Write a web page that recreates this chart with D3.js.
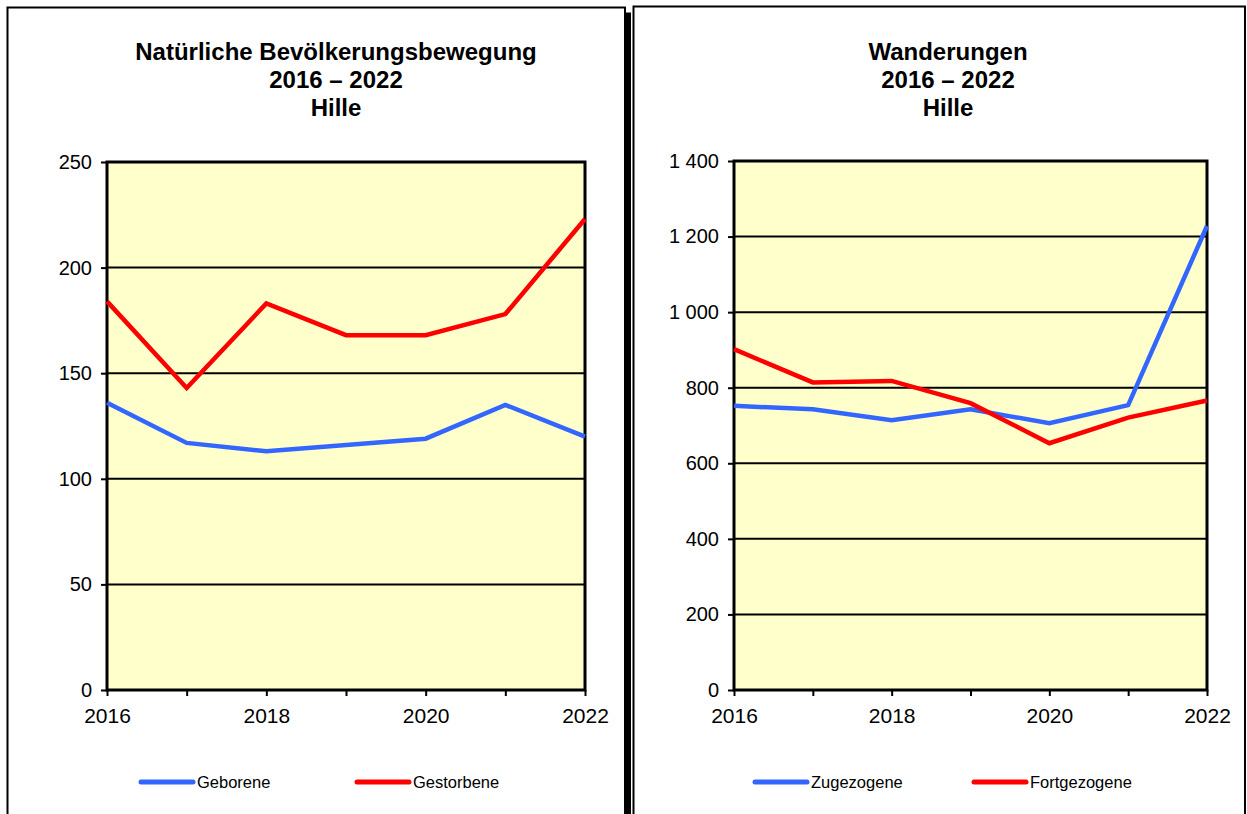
<!DOCTYPE html>
<html><head><meta charset="utf-8">
<script src="https://cdn.jsdelivr.net/npm/d3@7"></script>
<style>
html,body{margin:0;padding:0;background:#fff;}
svg{display:block;font-family:"Liberation Sans",Arial,sans-serif;}
</style></head>
<body>
<svg id="c" width="1247" height="814"></svg>
<script>
const years = [2016, 2017, 2018, 2019, 2020, 2021, 2022];
const yearLabels = [2016, 2018, 2020, 2022];

const geborene = [136, 117, 113, 116, 119, 135, 120];
const gestorbene = [184, 143, 183, 168, 168, 178, 223];
const leftTicks = [0, 50, 100, 150, 200, 250];

const zugezogene = [752, 743, 714, 743, 706, 754, 1228];
const fortgezogene = [902, 814, 818, 759, 653, 721, 766];
const rightTicks = [0, 200, 400, 600, 800, 1000, 1200, 1400];

const leftTitle = ["Natürliche Bevölkerungsbewegung", "2016 – 2022", "Hille"];
const rightTitle = ["Wanderungen", "2016 – 2022", "Hille"];

const blue = "#3366ff", red = "#ff0000";
const svg = d3.select("#c");

function panel(opt){
  const g = svg.append("g");
  if (opt.shadow) {
    g.append("rect").attr("x", opt.x1 + 1).attr("y", opt.y0 + 5).attr("width", 5).attr("height", 900).attr("fill", "#000");
  }
  g.append("rect").attr("x", opt.x0).attr("y", opt.y0).attr("width", opt.x1 - opt.x0).attr("height", 900)
    .attr("fill", "#fff").attr("stroke", "#000").attr("stroke-width", opt.bw);

  const t = g.append("text").attr("text-anchor", "middle").attr("font-weight", "bold").attr("font-size", 24).attr("fill", "#000");
  opt.title.forEach((s, i) => t.append("tspan").attr("x", opt.tx).attr("y", 60 + i * 28).text(s));

  const x = d3.scaleLinear().domain([2016, 2022]).range([opt.px0, opt.px1]);
  const y = d3.scaleLinear().domain([0, opt.ymax]).range([opt.py1, opt.py0]);

  g.append("rect").attr("x", opt.px0).attr("y", opt.py0).attr("width", opt.px1 - opt.px0).attr("height", opt.py1 - opt.py0)
    .attr("fill", "#ffffcc");

  g.append("g").selectAll("line").data(opt.ticks.slice(1, -1)).join("line")
    .attr("x1", opt.px0).attr("x2", opt.px1).attr("y1", d => y(d)).attr("y2", d => y(d))
    .attr("stroke", "#000").attr("stroke-width", 2);

  const ya = g.append("g").attr("transform", `translate(${opt.px0},0)`)
    .call(d3.axisLeft(y).tickValues(opt.ticks).tickSize(6).tickPadding(9).tickFormat(opt.fmt));
  ya.select(".domain").remove();
  ya.selectAll("line").attr("stroke", "#000").attr("stroke-width", 2);
  ya.selectAll("text").attr("font-size", 20).attr("fill", "#000").attr("font-family", "Liberation Sans, Arial, sans-serif");

  const xa = g.append("g").attr("transform", `translate(0,${opt.py1})`)
    .call(d3.axisBottom(x).tickValues(years).tickSize(6).tickPadding(12).tickFormat(d => yearLabels.includes(d) ? String(d) : ""));
  xa.select(".domain").remove();
  xa.selectAll("line").attr("stroke", "#000").attr("stroke-width", 2);
  xa.selectAll("text").attr("font-size", 21).attr("fill", "#000").attr("font-family", "Liberation Sans, Arial, sans-serif");

  g.append("rect").attr("x", opt.px0).attr("y", opt.py0).attr("width", opt.px1 - opt.px0).attr("height", opt.py1 - opt.py0)
    .attr("fill", "none").attr("stroke", "#000").attr("stroke-width", 3);

  const line = d3.line().x((d, i) => x(years[i])).y(d => y(d));
  opt.series.forEach(s => {
    g.append("path").datum(s.values).attr("d", line).attr("fill", "none")
      .attr("stroke", s.color).attr("stroke-width", 4.5).attr("stroke-linejoin", "miter");
  });

  opt.series.forEach((s, i) => {
    const lx = opt.legX[i];
    g.append("line").attr("x1", lx).attr("x2", lx + 52).attr("y1", 782).attr("y2", 782)
      .attr("stroke", s.color).attr("stroke-width", 5).attr("stroke-linecap", "round");
    g.append("text").attr("x", lx + 56).attr("y", 788).attr("font-size", 16.5).attr("fill", "#000").text(s.name);
  });
}

panel({
  x0: 7.5, x1: 625, y0: 7.5, bw: 2, shadow: true, tx: 336,
  title: leftTitle, px0: 107, px1: 585, py0: 162, py1: 690, ymax: 250, ticks: leftTicks,
  fmt: d => String(d),
  series: [{name: "Geborene", values: geborene, color: blue}, {name: "Gestorbene", values: gestorbene, color: red}],
  legX: [141, 357]
});

panel({
  x0: 633.5, x1: 1245, y0: 6.5, bw: 2, shadow: false, tx: 948,
  title: rightTitle, px0: 734, px1: 1207, py0: 161, py1: 690, ymax: 1400, ticks: rightTicks,
  fmt: d => d3.format(",")(d).replace(/,/g, " "),
  series: [{name: "Zugezogene", values: zugezogene, color: blue}, {name: "Fortgezogene", values: fortgezogene, color: red}],
  legX: [755, 974]
});
</script>
</body></html>
